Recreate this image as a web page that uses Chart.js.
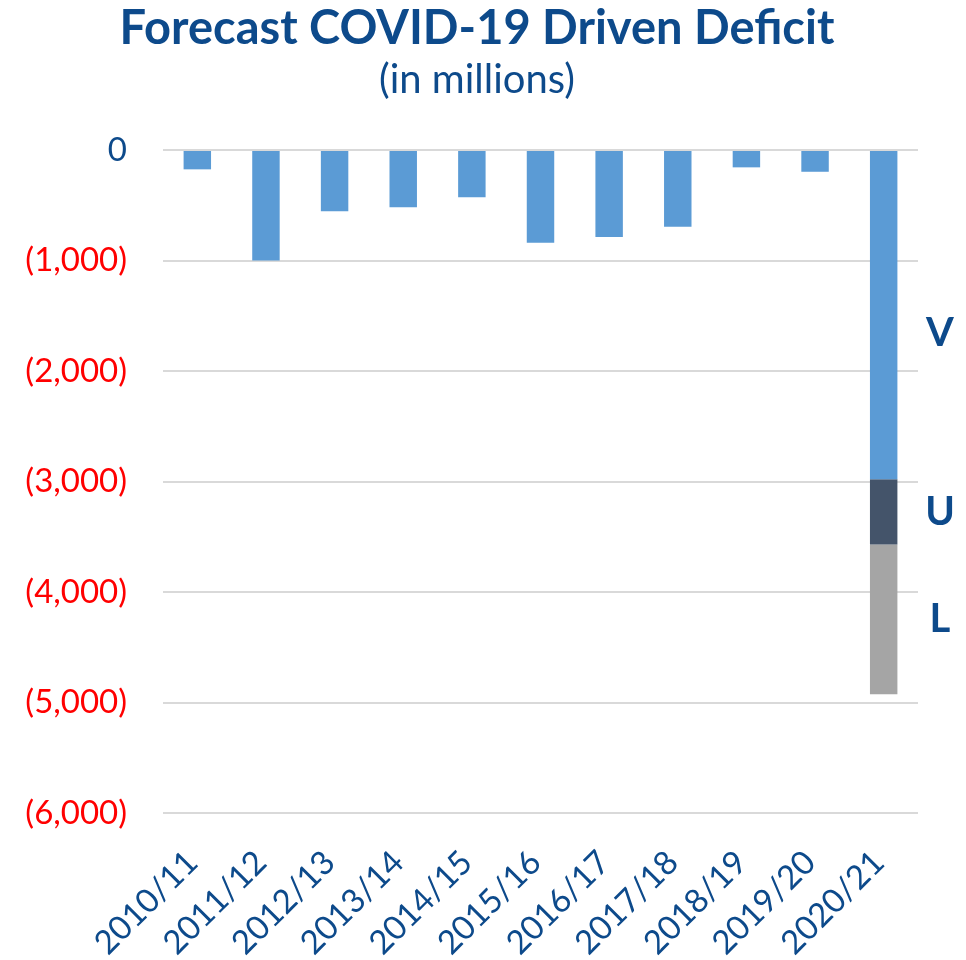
<!DOCTYPE html>
<html>
<head>
<meta charset="utf-8">
<script src="https://cdn.jsdelivr.net/npm/chart.js@4"></script>
<style>
  html, body { margin: 0; padding: 0; background: #fff; }
  canvas { display: block; }
</style>
</head>
<body>
<canvas id="deficitChart" width="966" height="960"></canvas>
<script>
// years on the x axis
const years = ["2010/11", "2011/12", "2012/13", "2013/14", "2014/15", "2015/16",
               "2016/17", "2017/18", "2018/19", "2019/20", "2020/21"];
// deficit in millions, 2020/21 split into the V / U / L scenarios (stacked)
const vDeficit = [-175, -1000, -555, -518, -427, -839, -787, -694, -157, -197, -2980];
const uExtra   = [null, null, null, null, null, null, null, null, null, null, -590];
const lExtra   = [null, null, null, null, null, null, null, null, null, null, -1355];
const scenarioNames = ["V", "U", "L"];
const yTicks = [0, -1000, -2000, -3000, -4000, -5000, -6000];

const BLUE_TEXT = "#0d4a8b";

function fmt(v) {
    if (v === 0) return "0";
    return "(" + Math.abs(v).toLocaleString("en-US") + ")";
}

// title + subtitle drawn above the plot
const titlePlugin = {
    id: "titles",
    afterDraw(chart) {
        const ctx = chart.ctx;
        ctx.save();
        ctx.fillStyle = BLUE_TEXT;
        ctx.textAlign = "center";
        ctx.textBaseline = "alphabetic";
        ctx.font = "bold 47px Lato";
        ctx.fillText("Forecast COVID-19 Driven Deficit", 477, 44);
        ctx.font = "40px Lato";
        ctx.fillText("(in millions)", 477, 93);
        ctx.restore();
    }
};

// V / U / L letters next to the stacked 2020/21 bar
const scenarioLabels = {
    id: "scenarioLabels",
    afterDatasetsDraw(chart) {
        const ctx = chart.ctx;
        const last = years.length - 1;
        ctx.save();
        ctx.fillStyle = BLUE_TEXT;
        ctx.font = "bold 40px Lato";
        ctx.textAlign = "center";
        ctx.textBaseline = "middle";
        scenarioNames.forEach((name, i) => {
            const bar = chart.getDatasetMeta(i).data[last];
            if (!bar) return;
            let mid = (bar.y + bar.base) / 2;
            if (i === 0) mid += 18; // V sits a bit below the middle of its segment
            ctx.fillText(name, chart.chartArea.right + 22, mid);
        });
        ctx.restore();
    }
};

const ctx = document.getElementById("deficitChart").getContext("2d");

new Chart(ctx, {
    type: "bar",
    data: {
        labels: years,
        datasets: [
            { label: "V", data: vDeficit, backgroundColor: "#5b9bd5" },
            { label: "U", data: uExtra, backgroundColor: "#44546a" },
            { label: "L", data: lExtra, backgroundColor: "#a5a5a5" }
        ]
    },
    options: {
        responsive: false,
        animation: false,
        devicePixelRatio: 1,
        layout: { padding: { top: 150, right: 48, left: 0, bottom: 0 } },
        datasets: {
            bar: { barPercentage: 0.4, categoryPercentage: 1.0 }
        },
        plugins: {
            legend: { display: false },
            title: { display: false },
            tooltip: { enabled: false }
        },
        scales: {
            x: {
                stacked: true,
                grid: { display: false },
                border: { display: false },
                ticks: {
                    color: BLUE_TEXT,
                    font: { family: "Lato", size: 33 },
                    minRotation: 45,
                    maxRotation: 45,
                    padding: 22,
                    labelOffset: -5,
                    autoSkip: false
                },
                afterFit: s => { s.height = 147; }
            },
            y: {
                stacked: true,
                min: -6000,
                max: 0,
                afterBuildTicks: s => { s.ticks = yTicks.map(v => ({ value: v })); },
                ticks: {
                    callback: v => fmt(v),
                    color: c => (c.tick && c.tick.value === 0) ? BLUE_TEXT : "#ff0000",
                    font: { family: "Lato", size: 33 },
                    padding: 36
                },
                grid: { color: "#d9d9d9", lineWidth: 2, drawTicks: false },
                border: { display: false },
                afterFit: s => { s.width = 163; }
            }
        }
    },
    plugins: [titlePlugin, scenarioLabels]
});
</script>
</body>
</html>
